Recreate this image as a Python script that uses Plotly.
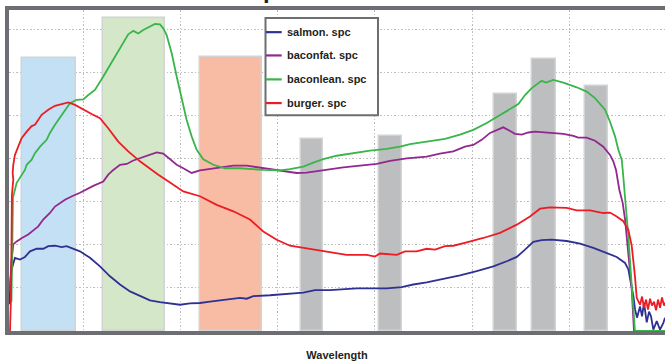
import plotly.graph_objects as go

# ---------------- data ----------------
# spectral bands (nm) and their relative response
band_names = ["Blue", "Green", "Orange", "NIR 1", "NIR 2", "NIR 3", "NIR 4", "NIR 5"]
band_lo = [337, 420, 520, 624, 704, 823, 862, 916]
band_hi = [393, 484, 584, 647, 728, 846, 886, 940]
band_val = [6.35, 7.28, 6.36, 4.46, 4.53, 5.50, 6.31, 5.69]
band_colors = ["#c4e0f4", "#d4e7c9", "#f7bca3", "#bcbec0", "#bcbec0", "#bcbec0", "#bcbec0", "#bcbec0"]

salmon_wl = [324.1, 325.1, 326.3, 329.7, 334.9, 340.0, 345.2, 352.1, 358.9, 364.0, 370.9, 377.8, 382.9,
             388.1, 396.6, 406.9, 417.2, 427.5, 437.8, 448.1, 458.3, 468.6, 478.9, 489.2, 499.5, 509.8,
             520.1, 530.4, 540.7, 554.4, 561.2, 568.1, 574.9, 592.1, 612.7, 626.4, 638.4, 653.8, 681.3,
             701.9, 712.2, 727.6, 739.5, 753.3, 772.2, 787.6, 804.8, 821.9, 835.7, 846.0, 854.5, 863.0,
             871.6, 881.9, 897.4, 911.1, 924.8, 938.5, 948.8, 957.4, 960.8, 963.3, 966.0, 967.7, 969.7,
             972.8, 974.9, 976.9, 979.7, 982.1, 984.1, 986.5, 990.0, 993.4, 996.8, 998.5]
salmon_val = [0.62, 1.19, 1.43, 1.70, 1.66, 1.72, 1.85, 1.91, 1.91, 1.97, 1.98, 1.95, 1.97,
              1.93, 1.85, 1.70, 1.50, 1.27, 1.08, 0.92, 0.81, 0.71, 0.67, 0.64, 0.61, 0.64,
              0.65, 0.68, 0.71, 0.75, 0.77, 0.75, 0.81, 0.83, 0.87, 0.89, 0.95, 0.95, 0.99,
              0.98, 0.99, 1.02, 1.08, 1.13, 1.22, 1.29, 1.39, 1.50, 1.62, 1.72, 1.89, 2.07,
              2.11, 2.12, 2.09, 2.03, 1.93, 1.81, 1.72, 1.58, 1.43, 1.12, 0.81, 0.50, 0.31,
              0.57, 0.34, 0.66, 0.20, 0.45, 0.34, 0.03, 0.23, 0.03, 0.19, 0.31]

baconfat_wl = [324.6, 326.1, 328.0, 331.5, 336.9, 343.4, 348.3, 353.7, 358.8, 365.7, 370.9, 376.0, 381.2,
               388.4, 396.6, 410.3, 420.6, 425.7, 430.9, 437.8, 444.7, 451.5, 458.4, 466.9, 475.5, 482.3,
               489.2, 496.1, 502.9, 511.5, 520.1, 530.4, 540.7, 554.4, 568.1, 585.2, 602.4, 619.6, 629.9,
               647.0, 667.5, 684.7, 701.9, 715.6, 732.7, 753.3, 767.0, 780.7, 792.7, 801.3, 809.9, 818.5,
               825.4, 832.1, 837.3, 844.2, 851.1, 857.9, 864.8, 880.2, 893.9, 904.2, 909.3, 917.9, 926.5,
               935.0, 941.9, 945.3, 948.1, 951.5, 955.0, 957.4, 960.8, 964.3, 966.6, 998.5]
baconfat_val = [0.96, 1.61, 2.01, 2.08, 2.16, 2.24, 2.33, 2.43, 2.59, 2.74, 2.89, 2.98, 3.05,
                3.13, 3.21, 3.37, 3.47, 3.63, 3.74, 3.86, 3.88, 3.96, 4.02, 4.09, 4.15, 4.12,
                3.99, 3.86, 3.78, 3.67, 3.73, 3.76, 3.80, 3.84, 3.84, 3.78, 3.73, 3.67, 3.68,
                3.74, 3.80, 3.84, 3.88, 3.95, 4.01, 4.05, 4.12, 4.17, 4.28, 4.32, 4.44, 4.60,
                4.67, 4.73, 4.67, 4.58, 4.56, 4.61, 4.63, 4.61, 4.58, 4.53, 4.49, 4.49, 4.42,
                4.28, 4.09, 3.94, 3.74, 3.28, 2.97, 2.59, 1.81, 0.96, 0.0, 0.0]

baconlean_wl = [326.1, 327.2, 327.7, 331.5, 336.6, 340.0, 341.8, 346.9, 350.3, 355.5, 362.3, 365.7, 370.9,
                377.8, 386.3, 393.2, 400.0, 405.2, 412.0, 420.6, 427.5, 434.4, 441.2, 446.3, 451.5, 456.6,
                461.7, 468.6, 473.8, 478.9, 482.3, 485.8, 491.0, 496.1, 501.3, 506.4, 511.5, 516.7, 523.5,
                533.8, 545.8, 561.2, 585.2, 602.4, 612.7, 626.4, 636.7, 646.9, 660.7, 677.8, 695.0, 712.2,
                725.9, 736.2, 753.3, 772.2, 787.6, 801.3, 815.1, 828.8, 839.0, 847.6, 854.5, 861.4, 871.6,
                876.1, 883.6, 893.9, 907.6, 917.9, 926.5, 936.8, 941.9, 947.1, 950.5, 954.0, 955.0, 957.4,
                960.8, 964.3, 967.6, 998.5]
baconlean_val = [0.68, 1.89, 3.10, 3.44, 3.63, 3.74, 3.86, 3.98, 4.13, 4.28, 4.44, 4.60, 4.79,
                 5.02, 5.29, 5.37, 5.38, 5.48, 5.60, 5.91, 6.18, 6.45, 6.72, 6.89, 6.97, 6.91,
                 6.99, 7.08, 7.13, 7.12, 7.03, 6.87, 6.45, 5.91, 5.37, 4.90, 4.52, 4.21, 3.99,
                 3.86, 3.78, 3.78, 3.74, 3.73, 3.76, 3.82, 3.91, 3.99, 4.07, 4.13, 4.19, 4.23,
                 4.28, 4.34, 4.39, 4.46, 4.56, 4.67, 4.83, 5.02, 5.16, 5.27, 5.48, 5.64, 5.81,
                 5.77, 5.83, 5.77, 5.66, 5.56, 5.41, 5.14, 4.86, 4.52, 4.21, 3.98, 3.74, 3.13,
                 2.20, 1.04, 0.0, 0.0]

burger_wl = [324.6, 325.6, 326.1, 326.6, 328.0, 327.4, 328.0, 329.7, 333.1, 336.6, 341.8, 346.9, 350.3,
             357.2, 364.0, 370.9, 377.8, 384.6, 391.5, 400.0, 408.6, 417.2, 425.7, 436.0, 446.3, 458.3,
             468.6, 477.2, 485.8, 502.9, 520.1, 537.3, 554.4, 571.5, 585.2, 599.0, 612.7, 626.4, 643.5,
             660.7, 671.0, 691.6, 700.1, 705.3, 722.5, 731.0, 743.0, 753.3, 761.9, 772.2, 780.7, 794.5,
             811.6, 828.8, 846.0, 859.6, 870.0, 880.2, 897.4, 907.7, 921.4, 935.0, 941.9, 948.8, 955.6,
             960.8, 964.3, 967.6, 969.4, 972.8, 974.9, 976.9, 979.0, 981.0, 983.1, 985.1, 987.2, 989.3,
             991.3, 993.4, 995.4, 997.5, 998.5]
burger_val = [0.0, 0.73, 1.89, 3.16, 3.51, 3.67, 3.86, 4.09, 4.28, 4.48, 4.63, 4.76, 4.79,
              5.02, 5.14, 5.23, 5.27, 5.31, 5.25, 5.14, 5.04, 4.94, 4.71, 4.40, 4.17, 3.94,
              3.76, 3.63, 3.50, 3.24, 3.13, 2.93, 2.78, 2.59, 2.31, 2.12, 1.98, 1.93, 1.87,
              1.81, 1.77, 1.77, 1.73, 1.80, 1.77, 1.85, 1.85, 1.91, 1.89, 1.97, 1.98, 2.06,
              2.16, 2.28, 2.47, 2.66, 2.84, 2.87, 2.86, 2.80, 2.80, 2.74, 2.75, 2.66, 2.55,
              2.35, 1.97, 1.27, 0.77, 0.61, 0.80, 0.54, 0.73, 0.50, 0.75, 0.59, 0.68, 0.48,
              0.73, 0.54, 0.78, 0.59, 0.66]

series_names = ["salmon. spc", "baconfat. spc", "baconlean. spc", "burger. spc"]
series_wl = [salmon_wl, baconfat_wl, baconlean_wl, burger_wl]
series_val = [salmon_val, baconfat_val, baconlean_val, burger_val]
series_colors = ["#2e3192", "#92278f", "#39b54a", "#ed1c24"]

x_title = "Wavelength"
chart_title = "Spectra"

# ---------------- figure ----------------
W, H = 665, 362
ML, MR, MT, MB = 9, 0, 9.5, 31
PW, PH = W - ML - MR, H - MT - MB

fig = go.Figure()

centers = [(a + b) / 2 for a, b in zip(band_lo, band_hi)]
widths = [b - a for a, b in zip(band_lo, band_hi)]
fig.add_trace(go.Bar(
    x=centers, y=band_val, width=widths, text=band_names, textposition="none",
    marker=dict(color=band_colors, line=dict(color="#d1d3d4", width=1.5)),
    showlegend=False, name="bands",
))

for name, xs, ys, col in zip(series_names, series_wl, series_val, series_colors):
    fig.add_trace(go.Scatter(x=xs, y=ys, mode="lines", name=name,
                             line=dict(color=col, width=1.8), showlegend=False))

def px2paper_x(px):
    return (px - ML) / PW

def px2paper_y(py):
    return (H - MB - py) / PH

shapes = []
annotations = []

# manual legend
shapes.append(dict(type="rect", xref="paper", yref="paper",
                   x0=px2paper_x(265.5), x1=px2paper_x(378), y0=px2paper_y(115), y1=px2paper_y(17.5),
                   line=dict(color="#6d6e71", width=2), fillcolor="white", layer="above"))
rows = [31.7, 55, 79, 102.7]
for name, col, ry in zip(series_names, series_colors, rows):
    shapes.append(dict(type="line", xref="paper", yref="paper",
                       x0=px2paper_x(266), x1=px2paper_x(281.7), y0=px2paper_y(ry), y1=px2paper_y(ry),
                       line=dict(color=col, width=2.2), layer="above"))
    annotations.append(dict(text=name, xref="paper", yref="paper", x=px2paper_x(284.5), y=px2paper_y(ry),
                            xanchor="left", yanchor="middle", showarrow=False,
                            font=dict(family="Liberation Sans", size=11, color="#231f20", weight="bold")))

# cropped title (only descender visible)
annotations.append(dict(text=chart_title, xref="paper", yref="paper", x=px2paper_x(245), y=px2paper_y(4),
                        xanchor="left", yanchor="bottom", showarrow=False,
                        font=dict(family="Liberation Sans", size=24, color="#231f20", weight="bold")))

fig.update_layout(
    width=W, height=H,
    margin=dict(l=ML, r=MR, t=MT, b=MB, pad=0),
    paper_bgcolor="white", plot_bgcolor="white",
    bargap=0, barmode="overlay",
    shapes=shapes, annotations=annotations,
    showlegend=False,
    xaxis=dict(range=[323.6, 998.5], tickvals=[400, 500, 600, 700, 800, 900], showticklabels=False,
               ticks="", showgrid=True, gridcolor="#bdbdbd", griddash="1.5px,2px", gridwidth=1.2,
               showline=True, linecolor="#6d6e71", linewidth=3.5, mirror=True, zeroline=False,
               title=dict(text=x_title, standoff=19,
                          font=dict(family="Liberation Sans", size=11, color="#231f20", weight="bold"))),
    yaxis=dict(range=[0, 7.455], tickvals=[1, 2, 3, 4, 5, 6, 7], showticklabels=False,
               ticks="", showgrid=True, gridcolor="#bdbdbd", griddash="1.5px,2px", gridwidth=1.2,
               showline=True, linecolor="#6d6e71", linewidth=3.5, mirror=False, zeroline=False),
)

fig.write_html("out.html", config={"displayModeBar": False},
               post_script="document.body.style.margin='0';document.body.style.overflow='hidden';")
